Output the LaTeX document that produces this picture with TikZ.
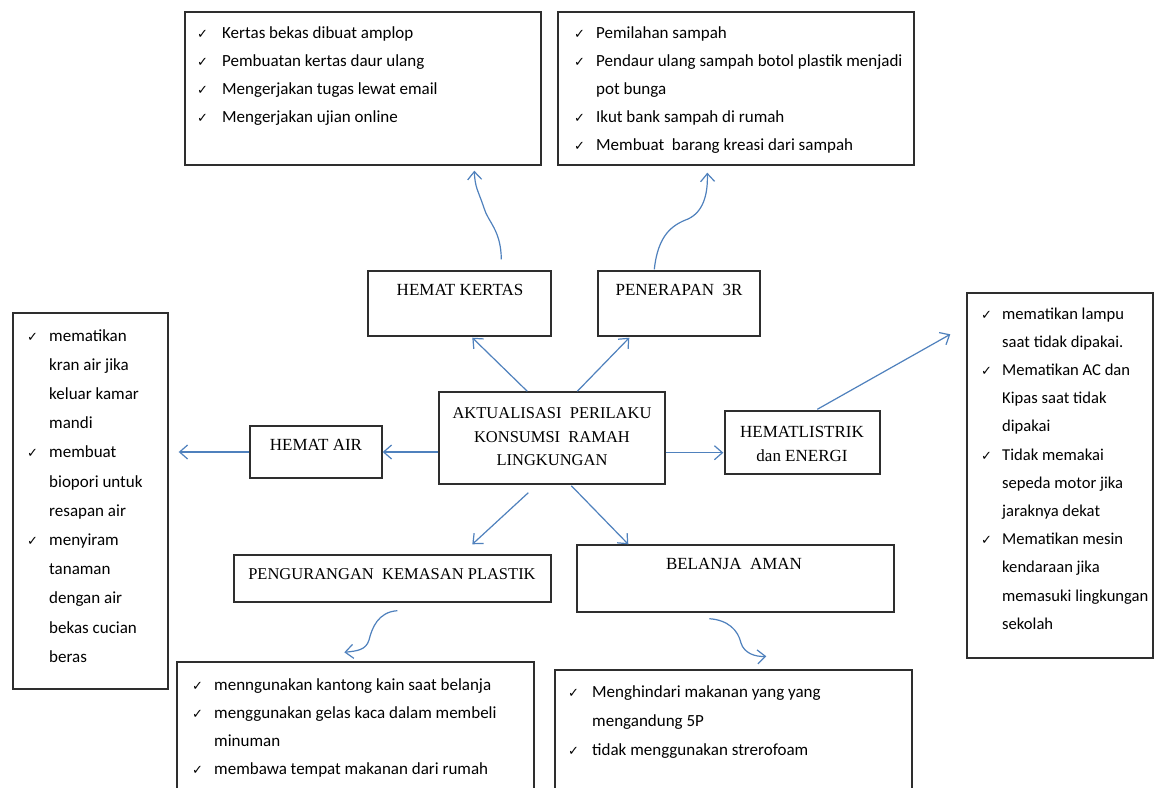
\documentclass[tikz,border=0pt]{standalone}
\usepackage{fontspec}
\setmainfont{Liberation Serif}
\newfontfamily\listfont{Carlito}
\newfontfamily\symfont{DejaVu Sans}
\usetikzlibrary{arrows.meta,calc,fit}
\definecolor{boxcol}{HTML}{2E2E2E}
\definecolor{arrcol}{HTML}{4F81BD}
\newcommand{\ck}[1][22pt]{\makebox[#1][l]{\symfont\fontsize{13}{13}\selectfont ✓}}
\newcommand{\ind}[1][22pt]{\hspace*{#1}}
\tikzset{
  box/.style={draw=boxcol, line width=1.4pt, inner sep=0pt, rectangle},
  conn/.style={draw=arrcol, line width=1.2pt, -{Straight Barb[length=8pt,width=14pt]}},
  ttl/.style={font=\fontsize{17}{23.5}\selectfont, inner sep=0pt, align=center, anchor=center},
  lst/.style={font=\listfont\fontsize{17}{28}\selectfont, inner sep=0pt, align=left, anchor=base west},
}
\begin{document}
\begin{tikzpicture}[x=1pt,y=-1pt]
\useasboundingbox (0,0) rectangle (1155,787);
\clip (0,0) rectangle (1155,787);
\fill[white] (0,0) rectangle (1155,787);

% boxes
\node[box, fit={(185,12) (541,165)}] (k1) {};
\node[box, fit={(558,12) (914,165)}] (k2) {};
\node[box, fit={(368,271) (551,336)}] (hk) {};
\node[box, fit={(598,271) (760,336)}] (p3r) {};
\node[box, fit={(439,392) (665,484)}] (ctr) {};
\node[box, fit={(250,426) (382,478)}] (air) {};
\node[box, fit={(725,411) (880,474)}] (lis) {};
\node[box, fit={(13,313) (168,689)}] (ll) {};
\node[box, fit={(967,293) (1153,658)}] (rl) {};
\node[box, fit={(234,555) (551,602)}] (pk) {};
\node[box, fit={(577,545) (894,612)}] (bel) {};
\node[box, fit={(177,662) (534,800)}] (bl) {};
\node[box, fit={(555,670) (912,800)}] (br) {};

% titles
\node[ttl] (t-hk) at (460,290) {HEMAT KERTAS};
\node[ttl] (t-p3r) at (679,290) {PENERAPAN\ \ 3R};
\node[ttl, font=\fontsize{16.5}{23.5}\selectfont] (t-ctr) at (552,437) {AKTUALISASI\ \ PERILAKU\\KONSUMSI\ \ RAMAH\\LINGKUNGAN};
\node[ttl] (t-air) at (316,445) {HEMAT AIR};
\node[ttl, font=\fontsize{17}{24}\selectfont] (t-lis) at (802,444) {HEMATLISTRIK\\dan ENERGI};
\node[ttl, font=\fontsize{16.5}{23.5}\selectfont] (t-pk) at (392,574) {PENGURANGAN\ \ KEMASAN PLASTIK};
\node[ttl] (t-bel) at (734,564) {BELANJA\ \ AMAN};

% lists (anchor = baseline of the last line)
\node[lst] (l-k1) at (197,122) {\ck[25pt]Kertas bekas dibuat amplop\\\ck[25pt]Pembuatan kertas daur ulang\\\ck[25pt]Mengerjakan tugas lewat email\\\ck[25pt]Mengerjakan ujian online};
\node[lst] (l-k2) at (574,150) {\ck Pemilahan sampah\\\ck Pendaur ulang sampah botol plastik menjadi\\\ind pot bunga\\\ck Ikut bank sampah di rumah\\\ck Membuat\ \ barang kreasi dari sampah};
\node[lst, font=\listfont\fontsize{17}{29.2}\selectfont] (l-ll) at (27,662.2) {\ck mematikan\\\ind kran air jika\\\ind keluar kamar\\\ind mandi\\\ck membuat\\\ind biopori untuk\\\ind resapan air\\\ck menyiram\\\ind tanaman\\\ind dengan air\\\ind bekas cucian\\\ind beras};
\node[lst, font=\listfont\fontsize{16.6}{28.2}\selectfont] (l-rl) at (981,629.2) {\ck[21pt]mematikan lampu\\\ind[21pt]saat tidak dipakai.\\\ck[21pt]Mematikan AC dan\\\ind[21pt]Kipas saat tidak\\\ind[21pt]dipakai\\\ck[21pt]Tidak memakai\\\ind[21pt]sepeda motor jika\\\ind[21pt]jaraknya dekat\\\ck[21pt]Mematikan mesin\\\ind[21pt]kendaraan jika\\\ind[21pt]memasuki lingkungan\\\ind[21pt]sekolah};
\node[lst, font=\listfont\fontsize{17}{28.3}\selectfont] (l-bl) at (192,774.9) {\ck menngunakan kantong kain saat belanja\\\ck menggunakan gelas kaca dalam membeli\\\ind minuman\\\ck membawa tempat makanan dari rumah};
\node[lst, font=\listfont\fontsize{17}{29}\selectfont] (l-br) at (568,755) {\ck[24pt]Menghindari makanan yang yang\\\ind[24pt]mengandung 5P\\\ck[24pt]tidak menggunakan strerofoam};

% straight connectors
\draw[conn] ($(ctr.north west)+(89,0)$) -- ($(hk.south west)+(105,1)$);
\draw[conn] ($(ctr.north west)+(139,0)$) -- ($(p3r.south west)+(32,1)$);
\draw[conn] (ctr.west |- air.east) -- (air.east);
\draw[conn] ($(ctr.south east)+(0,-32)$) -- ($(lis.south west)+(-1,-22)$);
\draw[conn] ($(ctr.south west)+(90,8)$) -- ($(pk.north west)+(239,-10)$);
\draw[conn] ($(ctr.south west)+(133,1)$) -- ($(bel.north west)+(52,0)$);
\draw[conn] (air.west) -- ($(ll.east |- air.west)+(10,0)$);
\draw[conn] ($(lis.north west)+(93,-1)$) -- ($(rl.north west)+(-16,42)$);

% curved connectors
\coordinate (s9) at ($(hk.north west)+(134,-11)$);
\coordinate (e9) at ($(k1.south west)+(290,5)$);
\draw[conn] (s9) .. controls (501,230) and (488,222) .. (484,208) .. controls (478,190) and (475,188) .. (e9);
\coordinate (s10) at ($(p3r.north west)+(57,-1)$);
\coordinate (e10) at ($(k2.south west)+(150,7)$);
\draw[conn] (s10) .. controls (658,235) and (672,225) .. (688,219) .. controls (703,212) and (708,195) .. (e10);
\coordinate (s11) at ($(pk.south west)+(164,8)$);
\coordinate (e11) at ($(bl.north west)+(168,-9)$);
\draw[conn] (s11) .. controls (378,612) and (372,628) .. (369,640) .. controls (366,650) and (357,651) .. (e11);
\coordinate (s12) at ($(bel.south west)+(133,6)$);
\coordinate (e12) at ($(br.north west)+(212,-13)$);
\draw[conn] (s12) .. controls (728,620) and (738,630) .. (741,643) .. controls (744,653) and (755,657) .. (e12);
\end{tikzpicture}
\end{document}
